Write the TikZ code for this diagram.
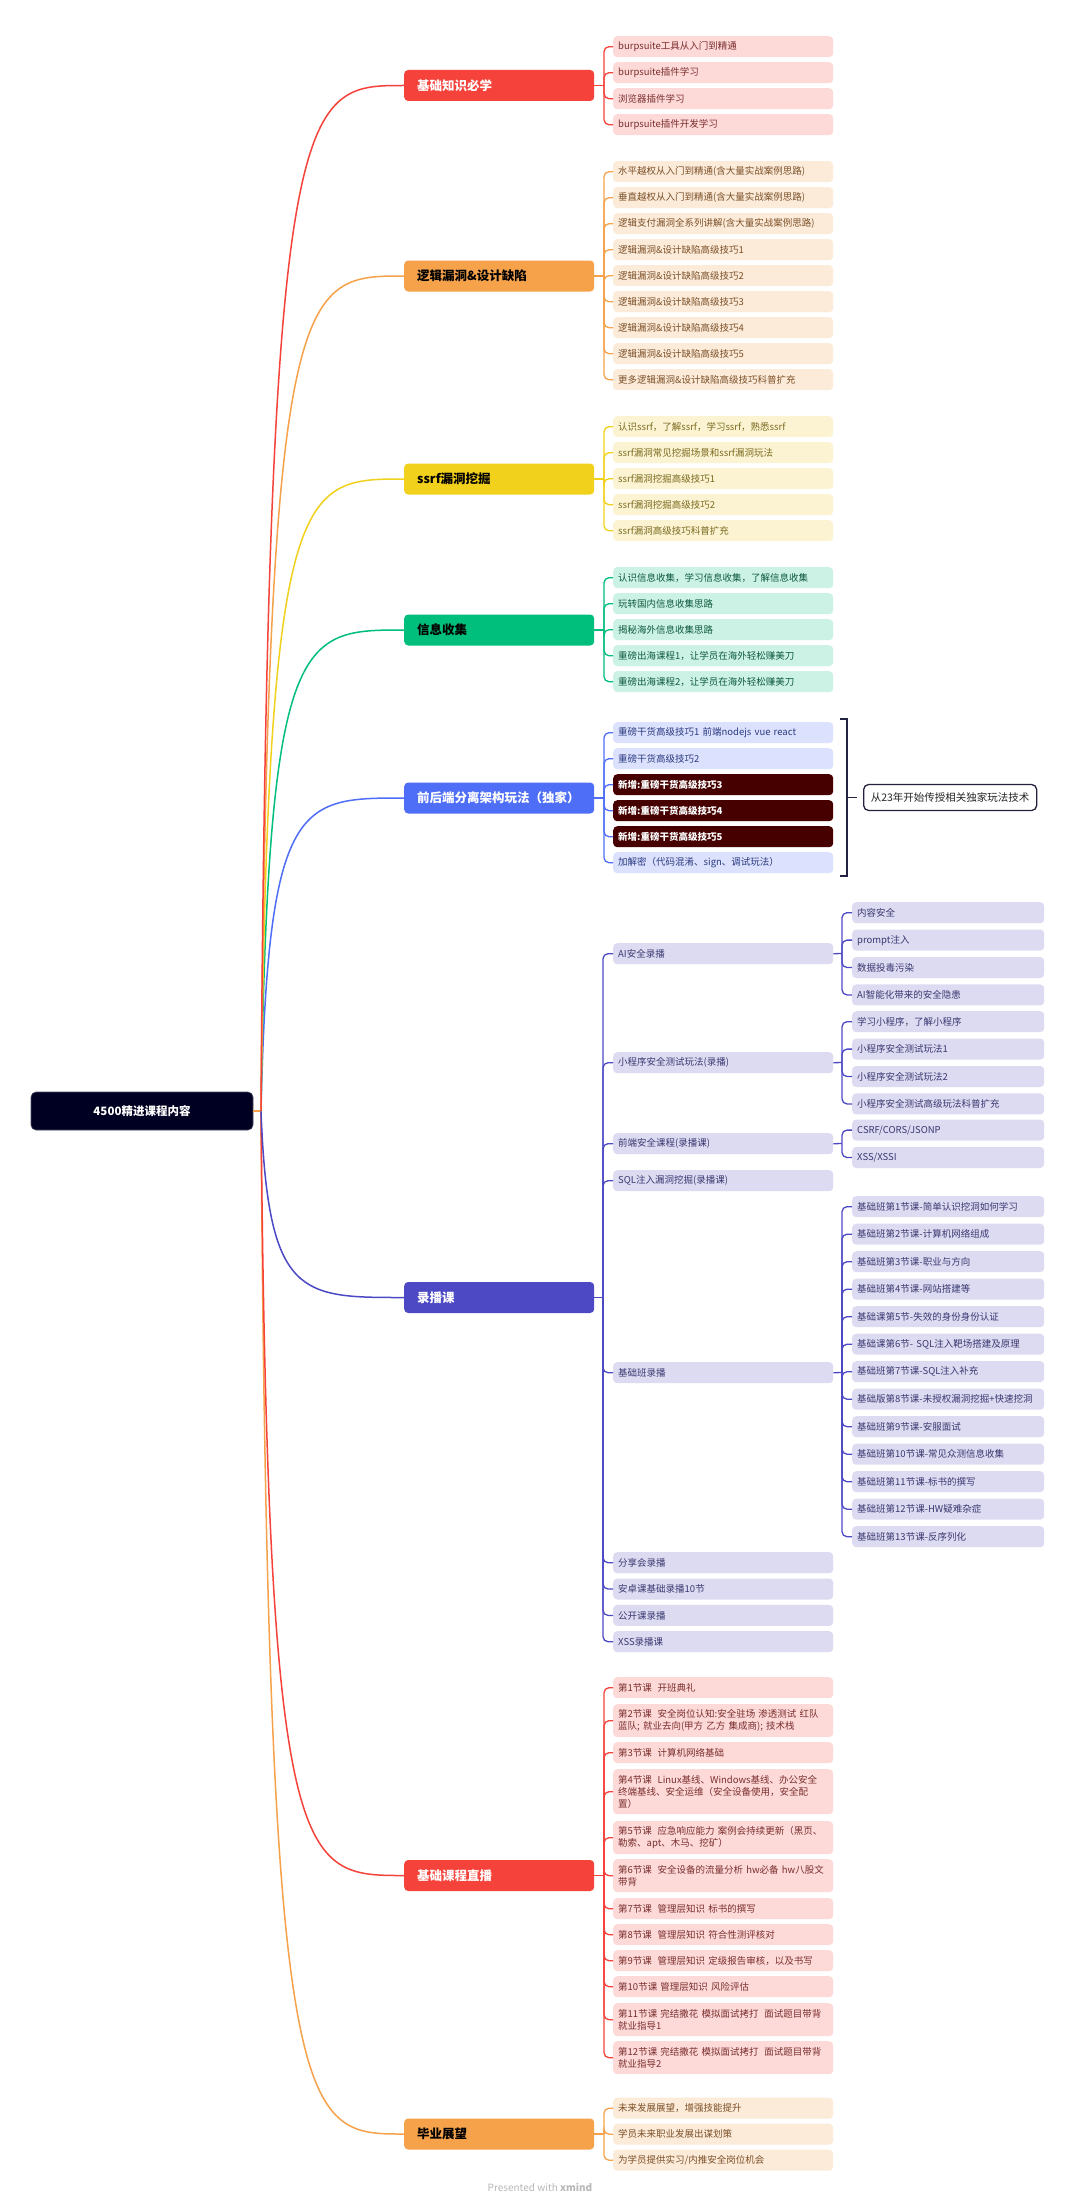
\documentclass[tikz,border=0pt]{standalone}
\usepackage{fontspec}
\setmainfont{Noto Sans CJK SC}
\definecolor{cRed}{HTML}{F5433B}
\definecolor{cRedL}{HTML}{FDDAD8}
\definecolor{cRedT}{HTML}{7A2E2E}
\definecolor{cOra}{HTML}{F5A24B}
\definecolor{cOraL}{HTML}{FDEBDA}
\definecolor{cOraT}{HTML}{7A5027}
\definecolor{cYel}{HTML}{F2D11C}
\definecolor{cYelL}{HTML}{FCF3D2}
\definecolor{cYelT}{HTML}{7A6A1F}
\definecolor{cGrn}{HTML}{00BE7C}
\definecolor{cGrnL}{HTML}{CCF2E5}
\definecolor{cGrnT}{HTML}{0E5A3E}
\definecolor{cBlu}{HTML}{4F6EF7}
\definecolor{cBluL}{HTML}{DCE2FD}
\definecolor{cBluT}{HTML}{2B3A80}
\definecolor{cMar}{HTML}{470000}
\definecolor{cPur}{HTML}{4D49C5}
\definecolor{cPurL}{HTML}{DCDBF1}
\definecolor{cPurT}{HTML}{3A3870}
\definecolor{cRoot}{HTML}{000022}
\definecolor{cNavy}{HTML}{23233F}
\tikzset{
  rootbox/.style={rounded corners=5pt, fill=cRoot, draw=cRoot!70!white, line width=0.6pt,
    minimum width=222pt, minimum height=38pt, inner sep=0pt, text=white,
    font=\fontsize{11.5}{13}\selectfont\bfseries},
  lvone/.style={anchor=west, rounded corners=4pt, minimum height=31pt, text width=164pt,
    inner xsep=13pt, inner ysep=0pt, align=left, font=\fontsize{12.5}{14}\selectfont\bfseries},
  leafbox/.style={anchor=north west, rounded corners=4pt, text width=210pt, inner xsep=5pt,
    inner ysep=0pt, minimum height=21pt, align=left, font=\fontsize{9.5}{12}\selectfont},
  lvthree/.style={leafbox, text width=182pt},
  conn/.style={line width=1.3pt, rounded corners=5pt},
  rootconn/.style={line width=1.5pt},
}
\begin{document}
\begin{tikzpicture}[x=1pt,y=-1pt]
\fill[white] (0,0) rectangle (1080,2210);
\useasboundingbox (0,0) rectangle (1080,2210);

% root
\node[rootbox] (root) at (142,1111) {4500精进课程内容};
\coordinate (rj) at (261,1111);
\coordinate (cxa) at (268,1111);
\coordinate (cxb) at (300,1111);

% level one
\node[lvone, fill=cRed, text=white] (n1) at (404,85.5) {基础知识必学};
\node[lvone, fill=cOra, text=black] (n2) at (404,276) {逻辑漏洞\&设计缺陷};
\node[lvone, fill=cYel, text=black] (n3) at (404,479) {ssrf漏洞挖掘};
\node[lvone, fill=cGrn, text=black] (n4) at (404,630) {信息收集};
\node[lvone, fill=cBlu, text=white] (n5) at (404,798) {前后端分离架构玩法（独家）};
\node[lvone, fill=cPur, text=white] (n6) at (404,1297.5) {录播课};
\node[lvone, fill=cRed, text=white] (n7) at (404,1875.5) {基础课程直播};
\node[lvone, fill=cOra, text=black] (n8) at (404,2134) {毕业展望};

\draw[rootconn, cOra] (root.east) -- (rj);
\foreach \n/\c in {n8/cOra, n7/cRed, n6/cPur, n5/cBlu, n4/cGrn, n3/cYel, n2/cOra, n1/cRed}
  \draw[rootconn, \c] (rj) .. controls (cxa |- \n.west) and (cxb |- \n.west) .. (\n.west);

% branch 1
\coordinate (j1) at (604,85.5);
\draw[conn, cRed] (n1.east) -- (j1);
\foreach \t [count=\i from 0] in {burpsuite工具从入门到精通, burpsuite插件学习, 浏览器插件学习, burpsuite插件开发学习} {
  \node[leafbox, fill=cRedL, text=cRedT] (a\i) at (613,{36+26*\i}) {\t};
  \draw[conn, cRed] (j1) |- (a\i.west);
}

% branch 2
\coordinate (j2) at (604,276);
\draw[conn, cOra] (n2.east) -- (j2);
\foreach \t [count=\i from 0] in {水平越权从入门到精通(含大量实战案例思路), 垂直越权从入门到精通(含大量实战案例思路), 逻辑支付漏洞全系列讲解(含大量实战案例思路), 逻辑漏洞\&设计缺陷高级技巧1, 逻辑漏洞\&设计缺陷高级技巧2, 逻辑漏洞\&设计缺陷高级技巧3, 逻辑漏洞\&设计缺陷高级技巧4, 逻辑漏洞\&设计缺陷高级技巧5, 更多逻辑漏洞\&设计缺陷高级技巧科普扩充} {
  \node[leafbox, fill=cOraL, text=cOraT] (b\i) at (613,{161+26*\i}) {\t};
  \draw[conn, cOra] (j2) |- (b\i.west);
}

% branch 3
\coordinate (j3) at (604,479);
\draw[conn, cYel] (n3.east) -- (j3);
\foreach \t [count=\i from 0] in {认识ssrf，了解ssrf，学习ssrf，熟悉ssrf, ssrf漏洞常见挖掘场景和ssrf漏洞玩法, ssrf漏洞挖掘高级技巧1, ssrf漏洞挖掘高级技巧2, ssrf漏洞高级技巧科普扩充} {
  \node[leafbox, fill=cYelL, text=cYelT] (c\i) at (613,{416+26*\i}) {\t};
  \draw[conn, cYel] (j3) |- (c\i.west);
}

% branch 4
\coordinate (j4) at (604,630);
\draw[conn, cGrn] (n4.east) -- (j4);
\foreach \t [count=\i from 0] in {认识信息收集，学习信息收集，了解信息收集, 玩转国内信息收集思路, 揭秘海外信息收集思路, 重磅出海课程1，让学员在海外轻松赚美刀, 重磅出海课程2，让学员在海外轻松赚美刀} {
  \node[leafbox, fill=cGrnL, text=cGrnT] (d\i) at (613,{567+26*\i}) {\t};
  \draw[conn, cGrn] (j4) |- (d\i.west);
}

% branch 5
\coordinate (j5) at (604,798);
\draw[conn, cBlu] (n5.east) -- (j5);
\node[leafbox, fill=cBluL, text=cBluT] (e0) at (613,722) {重磅干货高级技巧1 前端nodejs vue react};
\node[leafbox, fill=cBluL, text=cBluT] (e1) at (613,748) {重磅干货高级技巧2};
\node[leafbox, fill=cMar, text=white, font=\fontsize{9.5}{12}\selectfont\bfseries] (e2) at (613,774) {新增:重磅干货高级技巧3};
\node[leafbox, fill=cMar, text=white, font=\fontsize{9.5}{12}\selectfont\bfseries] (e3) at (613,800) {新增:重磅干货高级技巧4};
\node[leafbox, fill=cMar, text=white, font=\fontsize{9.5}{12}\selectfont\bfseries] (e4) at (613,826) {新增:重磅干货高级技巧5};
\node[leafbox, fill=cBluL, text=cBluT] (e5) at (613,852) {加解密（代码混淆、sign、调试玩法）};
\foreach \i in {0,...,5} \draw[conn, cBlu] (j5) |- (e\i.west);

% bracket and callout
\coordinate (bt0) at (840,719);
\coordinate (bt1) at (847,719);
\coordinate (bb1) at (847,876);
\coordinate (bb0) at (840,876);
\coordinate (bm0) at (847,797.5);
\coordinate (bm1) at (857,797.5);
\draw[cNavy, line width=1.5pt] (bt0) -- (bt1) -- (bb1) -- (bb0);
\draw[cNavy, line width=1.5pt] (bm0) -- (bm1);
\node[anchor=west, draw=cNavy, line width=1.3pt, fill=white, rounded corners=5pt,
  minimum width=173pt, minimum height=26pt, inner sep=0pt, text=black!85,
  font=\fontsize{10.5}{12}\selectfont] (call) at (863,797.5) {从23年开始传授相关独家玩法技术};

% branch 6
\coordinate (j6) at (603,1297.5);
\draw[conn, cPur] (n6.east) -- (j6);
\node[leafbox, fill=cPurL, text=cPurT] (r1) at (613,943) {AI安全录播};
\node[leafbox, fill=cPurL, text=cPurT] (r2) at (613,1052) {小程序安全测试玩法(录播)};
\node[leafbox, fill=cPurL, text=cPurT] (r3) at (613,1133) {前端安全课程(录播课)};
\node[leafbox, fill=cPurL, text=cPurT] (r4) at (613,1170) {SQL注入漏洞挖掘(录播课)};
\node[leafbox, fill=cPurL, text=cPurT] (r5) at (613,1362) {基础班录播};
\node[leafbox, fill=cPurL, text=cPurT] (r6) at (613,1552) {分享会录播};
\node[leafbox, fill=cPurL, text=cPurT] (r7) at (613,1578.3) {安卓课基础录播10节};
\node[leafbox, fill=cPurL, text=cPurT] (r8) at (613,1604.7) {公开课录播};
\node[leafbox, fill=cPurL, text=cPurT] (r9) at (613,1631) {XSS录播课};
\foreach \i in {1,...,9} \draw[conn, cPur] (j6) |- (r\i.west);

\coordinate (k1) at (842,953.5);
\draw[conn, cPur] (r1.east) -- (k1);
\foreach \t [count=\i from 0] in {内容安全, prompt注入, 数据投毒污染, AI智能化带来的安全隐患} {
  \node[lvthree, fill=cPurL, text=cPurT] (sa\i) at (852,{902+27.4*\i}) {\t};
  \draw[conn, cPur] (k1) |- (sa\i.west);
}
\coordinate (k2) at (842,1062.5);
\draw[conn, cPur] (r2.east) -- (k2);
\foreach \t [count=\i from 0] in {学习小程序，了解小程序, 小程序安全测试玩法1, 小程序安全测试玩法2, 小程序安全测试高级玩法科普扩充} {
  \node[lvthree, fill=cPurL, text=cPurT] (sb\i) at (852,{1011+27.4*\i}) {\t};
  \draw[conn, cPur] (k2) |- (sb\i.west);
}
\coordinate (k3) at (842,1143.5);
\draw[conn, cPur] (r3.east) -- (k3);
\foreach \t [count=\i from 0] in {CSRF/CORS/JSONP, XSS/XSSI} {
  \node[lvthree, fill=cPurL, text=cPurT] (sc\i) at (852,{1119.4+27.4*\i}) {\t};
  \draw[conn, cPur] (k3) |- (sc\i.west);
}
\coordinate (k5) at (842,1372.5);
\draw[conn, cPur] (r5.east) -- (k5);
\foreach \t [count=\i from 0] in {基础班第1节课-简单认识挖洞如何学习, 基础班第2节课-计算机网络组成, 基础班第3节课-职业与方向, 基础班第4节课-网站搭建等, 基础课第5节-失效的身份身份认证, 基础课第6节- SQL注入靶场搭建及原理, 基础班第7节课-SQL注入补充, 基础版第8节课-未授权漏洞挖掘+快速挖洞, 基础班第9节课-安服面试, 基础班第10节课-常见众测信息收集, 基础班第11节课-标书的撰写, 基础班第12节课-HW疑难杂症, 基础班第13节课-反序列化} {
  \node[lvthree, fill=cPurL, text=cPurT] (sd\i) at (852,{1196+27.5*\i}) {\t};
  \draw[conn, cPur] (k5) |- (sd\i.west);
}

% branch 7
\coordinate (j7) at (604,1875.5);
\draw[conn, cRed] (n7.east) -- (j7);
\tikzset{livebox/.style={leafbox, fill=cRedL, text=cRedT}}
\node[livebox] (g1) at (613,1677) {\mbox{第1节课\hspace{0.6em}开班典礼}};
\node[livebox, minimum height=33pt] (g2) at (613,1704) {\mbox{第2节课\hspace{0.6em}安全岗位认知:安全驻场 渗透测试 红队}\\\mbox{蓝队; 就业去向(甲方 乙方 集成商); 技术栈}};
\node[livebox] (g3) at (613,1742) {\mbox{第3节课\hspace{0.6em}计算机网络基础}};
\node[livebox, minimum height=45pt] (g4) at (613,1769) {\mbox{第4节课\hspace{0.6em}Linux基线、Windows基线、办公安全}\\\mbox{终端基线、安全运维（安全设备使用，安全配}\\\mbox{置）}};
\node[livebox, minimum height=33pt] (g5) at (613,1821) {\mbox{第5节课\hspace{0.6em}应急响应能力 案例会持续更新（黑页、}\\\mbox{勒索、apt、木马、挖矿）}};
\node[livebox, minimum height=33pt] (g6) at (613,1859) {\mbox{第6节课\hspace{0.6em}安全设备的流量分析 hw必备 hw八股文}\\\mbox{带背}};
\node[livebox] (g7) at (613,1898) {\mbox{第7节课\hspace{0.6em}管理层知识 标书的撰写}};
\node[livebox] (g8) at (613,1924) {\mbox{第8节课\hspace{0.6em}管理层知识 符合性测评核对}};
\node[livebox] (g9) at (613,1950) {\mbox{第9节课\hspace{0.6em}管理层知识 定级报告审核，以及书写}};
\node[livebox] (g10) at (613,1976) {\mbox{第10节课 管理层知识 风险评估}};
\node[livebox, minimum height=33pt] (g11) at (613,2003) {\mbox{第11节课 完结撒花 模拟面试拷打\hspace{0.6em}面试题目带背}\\\mbox{就业指导1}};
\node[livebox, minimum height=33pt] (g12) at (613,2041) {\mbox{第12节课 完结撒花 模拟面试拷打\hspace{0.6em}面试题目带背}\\\mbox{就业指导2}};
\foreach \i in {1,...,12} \draw[conn, cRed] (j7) |- (g\i.west);

% branch 8
\coordinate (j8) at (604,2134);
\draw[conn, cOra] (n8.east) -- (j8);
\foreach \t [count=\i from 0] in {未来发展展望，增强技能提升, 学员未来职业发展出谋划策, 为学员提供实习/内推安全岗位机会} {
  \node[leafbox, fill=cOraL, text=cOraT] (h\i) at (613,{2097.5+26*\i}) {\t};
  \draw[conn, cOra] (j8) |- (h\i.west);
}

% footer
\node[text=black!28, font=\fontsize{10}{12}\selectfont] (pw) at (540,2187) {Presented with \textbf{xmind}};
\end{tikzpicture}
\end{document}
